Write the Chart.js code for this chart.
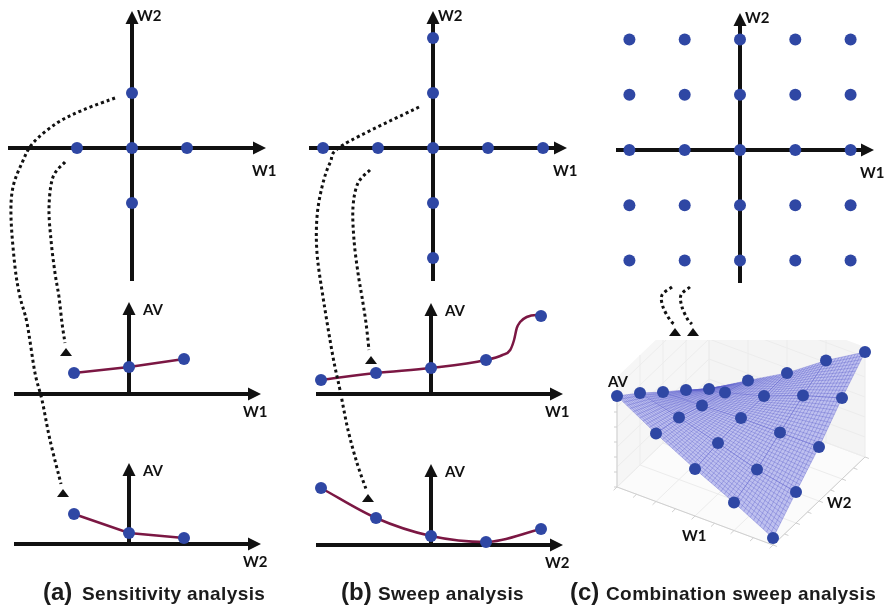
<!DOCTYPE html>
<html>
<head>
<meta charset="utf-8">
<script src="https://cdn.jsdelivr.net/npm/chart.js@4.4.1/dist/chart.umd.min.js"></script>
<style>
    html, body { margin: 0; padding: 0; background: #fff; }
    #page { position: relative; width: 886px; height: 609px; overflow: hidden; }
    #page canvas { position: absolute; }
    .cap { position: absolute; font-family: "Liberation Sans", Arial, sans-serif; font-weight: bold;
           color: #1b1b1b; white-space: nowrap; line-height: 1; }
    .cap.big { font-size: 24px; }
    .cap.small { font-size: 19px; letter-spacing: 0.4px; }
</style>
</head>
<body>
<div id="page"></div>
<script>
// (a) sensitivity analysis: one weight moved at a time
const sensW1 = [-1, 0, 1];
const sensW2 = [-1, 0, 1];
const sensAvW1 = [2.1, 2.7, 3.5];
const sensAvW2 = [3.0, 1.1, 0.6];

// (b) sweep analysis
const sweepW1 = [-2, -1, 0, 1, 2];
const sweepW2 = [-2, -1, 0, 1, 2];
const sweepAvW1 = [1.4, 2.1, 2.6, 3.4, 7.8];
const sweepAvW2 = [5.7, 2.7, 0.9, 0.3, 1.6];
// response shape between the last two W1 samples
const sweepCurveW1 = [1, 1.3, 1.44, 1.51, 1.56, 1.62, 1.74, 1.92, 2];
const sweepCurveAv = [3.4, 3.9, 4.4, 5.4, 6.6, 7.2, 7.7, 7.9, 7.8];

// (c) combination sweep: every W1 x W2 pair
const gridW1 = [-2, -1, 0, 1, 2];
const gridW2 = [-2, -1, 0, 1, 2];
const gridAv = [            // rows: W1, columns: W2
    [9.1, 7.2, 5.1, 3.1, 1.0],
    [6.8, 6.2, 5.2, 4.3, 3.3],
    [4.7, 5.1, 5.4, 5.4, 5.5],
    [2.8, 3.9, 5.4, 6.9, 8.2],
    [0.7, 3.1, 5.4, 8.1, 10.5]
];

const dotBlue = '#2F47A4';
const wine = '#7B1743';
const ink = '#111111';
const labelFont = 'bold 15px Lato, "DejaVu Sans", sans-serif';

const page = document.getElementById('page');

function arrow(ctx, x1, y1, x2, y2) {
    const head = 13, half = 6.5;
    const ang = Math.atan2(y2 - y1, x2 - x1);
    const bx = x2 - head * Math.cos(ang), by = y2 - head * Math.sin(ang);
    ctx.beginPath();
    ctx.moveTo(x1, y1);
    ctx.lineTo(bx, by);
    ctx.stroke();
    ctx.beginPath();
    ctx.moveTo(x2, y2);
    ctx.lineTo(bx + half * Math.sin(ang), by - half * Math.cos(ang));
    ctx.lineTo(bx - half * Math.sin(ang), by + half * Math.cos(ang));
    ctx.closePath();
    ctx.fill();
}

// axes drawn through the data origin, with arrow heads and labels
function crossAxes(axes) {
    return {
        id: 'crossAxes',
        beforeDatasetsDraw(chart) {
            const ctx = chart.ctx;
            const x0 = chart.scales.x.getPixelForValue(0);
            const y0 = chart.scales.y.getPixelForValue(0);
            ctx.save();
            ctx.strokeStyle = ink;
            ctx.fillStyle = ink;
            ctx.lineWidth = 4;
            arrow(ctx, x0 + axes.h[0], y0, x0 + axes.h[1], y0);
            arrow(ctx, x0, y0 + axes.v[0], x0, y0 + axes.v[1]);
            ctx.font = labelFont;
            ctx.textBaseline = 'alphabetic';
            axes.labels.forEach(l => ctx.fillText(l.text, x0 + l.dx, y0 + l.dy));
            ctx.restore();
        }
    };
}

function dots(points) {
    return {
        data: points, showLine: false, clip: false,
        pointRadius: 6, pointHoverRadius: 6, pointBorderWidth: 0,
        pointBackgroundColor: dotBlue
    };
}

function curve(points, smooth) {
    return {
        data: points, showLine: true, clip: false, pointRadius: 0,
        borderColor: wine, borderWidth: 2.5,
        cubicInterpolationMode: smooth ? 'monotone' : 'default', tension: 0
    };
}

const baseOptions = {
    responsive: false,
    animation: false,
    devicePixelRatio: 1,
    layout: { padding: 0, autoPadding: false },
    events: [],
    plugins: { legend: { display: false }, tooltip: { enabled: false } }
};

function addCanvas(box) {
    const cv = document.createElement('canvas');
    cv.width = box[2];
    cv.height = box[3];
    cv.style.left = box[0] + 'px';
    cv.style.top = box[1] + 'px';
    page.appendChild(cv);
    return cv;
}

function addPlot(cfg) {
    const [left, top, w, h] = cfg.box;
    const [ox, oy] = cfg.origin;
    const [ux, uy] = cfg.unit;
    return new Chart(addCanvas(cfg.box), {
        type: 'scatter',
        data: { datasets: cfg.datasets },
        options: {
            ...baseOptions,
            scales: {
                x: { type: 'linear', display: false, min: (left - ox) / ux, max: (left + w - ox) / ux },
                y: { type: 'linear', display: false, min: (oy - top - h) / uy, max: (oy - top) / uy }
            }
        },
        plugins: [crossAxes(cfg.axes)]
    });
}

const crossAxesStyle = {
    h: [-124, 134], v: [133, -137],
    labels: [{ text: 'W1', dx: 120, dy: 28 }, { text: 'W2', dx: 5, dy: -127 }]
};
function avAxes(top, wName) {
    return {
        h: [-115, 132], v: [0, top],
        labels: [{ text: 'AV', dx: 14, dy: top + 13 }, { text: wName, dx: 114, dy: 23 }]
    };
}

function onAxes(w1s, w2s) {
    return w1s.map(w => ({ x: w, y: 0 })).concat(w2s.filter(w => w !== 0).map(w => ({ x: 0, y: w })));
}
const zip = (xs, ys) => xs.map((x, i) => ({ x: x, y: ys[i] }));

// ---- (a) ----
addPlot({
    box: [0, 0, 290, 290], origin: [132, 148], unit: [55, 55],
    datasets: [dots(onAxes(sensW1, sensW2))], axes: crossAxesStyle
});
addPlot({
    box: [0, 290, 300, 140], origin: [129, 394], unit: [55, 10],
    datasets: [dots(zip(sensW1, sensAvW1)), curve(zip(sensW1, sensAvW1), false)],
    axes: avAxes(-92, 'W1')
});
addPlot({
    box: [0, 440, 300, 135], origin: [129, 544], unit: [55, 10],
    datasets: [dots(zip(sensW2, sensAvW2)), curve(zip(sensW2, sensAvW2), false)],
    axes: avAxes(-81, 'W2')
});

// ---- (b) ----
addPlot({
    box: [295, 0, 295, 290], origin: [433, 148], unit: [55, 55],
    datasets: [dots(onAxes(sweepW1, sweepW2))], axes: crossAxesStyle
});
addPlot({
    box: [295, 290, 300, 140], origin: [431, 394], unit: [55, 10],
    datasets: [
        dots(zip(sweepW1, sweepAvW1)),
        curve(zip(sweepW1.slice(0, 3), sweepAvW1.slice(0, 3)).concat(zip(sweepCurveW1, sweepCurveAv)), true)
    ],
    axes: avAxes(-91, 'W1')
});
addPlot({
    box: [295, 440, 300, 135], origin: [431, 545], unit: [55, 10],
    datasets: [dots(zip(sweepW2, sweepAvW2)), curve(zip(sweepW2, sweepAvW2), true)],
    axes: avAxes(-81, 'W2')
});

// ---- (c) grid ----
addPlot({
    box: [600, 0, 286, 290], origin: [740, 150], unit: [55.3, 55.3],
    datasets: [dots(gridW1.flatMap(a => gridW2.map(b => ({ x: a, y: b }))))], axes: crossAxesStyle
});

// ---- (c) surface, oblique view ----
const view = { ox: 617, oy: 487, w1: [39, 14.5], w2: [23, -22], av: 10 };
function proj(w1, w2, av) {
    const a = w1 - gridW1[0], b = w2 - gridW2[0];
    return {
        x: view.ox + view.w1[0] * a + view.w2[0] * b,
        y: view.oy + view.w1[1] * a + view.w2[1] * b - view.av * av
    };
}

const surfacePlugin = {
    id: 'surface',
    beforeDatasetsDraw(chart) {
        const ctx = chart.ctx;
        const sx = chart.scales.x, sy = chart.scales.y;
        const P = (w1, w2, av) => { const p = proj(w1, w2, av); return [sx.getPixelForValue(p.x), sy.getPixelForValue(p.y)]; };
        const lo1 = gridW1[0], hi1 = gridW1[gridW1.length - 1];
        const lo2 = gridW2[0], hi2 = gridW2[gridW2.length - 1];
        const H = 11;
        const poly = (pts, fill) => {
            ctx.beginPath();
            pts.forEach((p, k) => k ? ctx.lineTo(p[0], p[1]) : ctx.moveTo(p[0], p[1]));
            ctx.closePath();
            ctx.fillStyle = fill;
            ctx.fill();
        };
        const seg = (a, b) => { ctx.beginPath(); ctx.moveTo(a[0], a[1]); ctx.lineTo(b[0], b[1]); ctx.stroke(); };
        ctx.save();
        ctx.lineWidth = 1;
        // back walls and floor
        poly([P(lo1, lo2, 0), P(lo1, hi2, 0), P(lo1, hi2, H), P(lo1, lo2, H)], '#f6f6f6');
        poly([P(lo1, hi2, 0), P(hi1, hi2, 0), P(hi1, hi2, H), P(lo1, hi2, H)], '#f4f4f4');
        poly([P(lo1, lo2, 0), P(hi1, lo2, 0), P(hi1, hi2, 0), P(lo1, hi2, 0)], '#fbfbfb');
        ctx.strokeStyle = '#ececec';
        for (let v = 0; v <= H; v += 2) {
            seg(P(lo1, lo2, v), P(lo1, hi2, v));
            seg(P(lo1, hi2, v), P(hi1, hi2, v));
        }
        for (let t = lo2; t <= hi2; t += 1) seg(P(lo1, t, 0), P(lo1, t, H));
        for (let t = lo1; t <= hi1; t += 1) seg(P(t, hi2, 0), P(t, hi2, H));
        for (let t = lo1; t <= hi1; t += 1) seg(P(t, lo2, 0), P(t, hi2, 0));
        for (let t = lo2; t <= hi2; t += 1) seg(P(lo1, t, 0), P(hi1, t, 0));
        // front edges with ticks
        ctx.strokeStyle = '#cfcfcf';
        seg(P(lo1, lo2, 0), P(hi1, lo2, 0));
        seg(P(hi1, lo2, 0), P(hi1, hi2, 0));
        seg(P(lo1, lo2, 0), P(lo1, lo2, 9));
        for (let t = lo1; t <= hi1; t += 0.5) seg(P(t, lo2, 0), P(t, lo2 - 0.15, 0));
        for (let t = lo2; t <= hi2; t += 0.5) seg(P(hi1, t, 0), P(hi1 + 0.1, t, 0));
        for (let v = 0; v <= 9; v += 1.5) { const p = P(lo1, lo2, v); seg(p, [p[0] - 3, p[1]]); }

        // surface: outline fill then a fine mesh
        const G = (i, j) => P(gridW1[i], gridW2[j], gridAv[i][j]);
        const n = gridW1.length - 1, m = gridW2.length - 1;
        const edge = [];
        for (let i = 0; i <= n; i++) edge.push(G(i, 0));
        for (let j = 1; j <= m; j++) edge.push(G(n, j));
        for (let i = n - 1; i >= 0; i--) edge.push(G(i, m));
        for (let j = m - 1; j > 0; j--) edge.push(G(0, j));
        poly(edge, 'rgba(186,189,238,0.95)');
        const lerp = (a, b, t) => [a[0] + (b[0] - a[0]) * t, a[1] + (b[1] - a[1]) * t];
        const bil = (i, j, s, t) => lerp(lerp(G(i, j), G(i + 1, j), s), lerp(G(i, j + 1), G(i + 1, j + 1), s), t);
        const sub = 12;
        ctx.strokeStyle = 'rgba(85,90,200,0.5)';
        ctx.lineWidth = 0.7;
        for (let i = 0; i < n; i++) {
            for (let j = 0; j < m; j++) {
                for (let k = 0; k <= sub; k++) {
                    const f = k / sub;
                    seg(bil(i, j, f, 0), bil(i, j, f, 1));
                    seg(bil(i, j, 0, f), bil(i, j, 1, f));
                }
            }
        }
        ctx.restore();
    },
    afterDatasetsDraw(chart) {
        const ctx = chart.ctx;
        const sx = chart.scales.x, sy = chart.scales.y;
        ctx.save();
        ctx.font = labelFont;
        ctx.fillStyle = ink;
        [['AV', 608, 387], ['W1', 682, 541], ['W2', 827, 508]].forEach(l =>
            ctx.fillText(l[0], sx.getPixelForValue(l[1]), sy.getPixelForValue(l[2])));
        ctx.restore();
    }
};

(function addSurface() {
    const box = [600, 340, 286, 220];
    const pts = [];
    gridW1.forEach((a, i) => gridW2.forEach((b, j) => pts.push(proj(a, b, gridAv[i][j]))));
    new Chart(addCanvas(box), {
        type: 'scatter',
        data: { datasets: [dots(pts)] },
        options: {
            ...baseOptions,
            scales: {
                x: { type: 'linear', display: false, min: box[0], max: box[0] + box[2] },
                y: { type: 'linear', display: false, reverse: true, min: box[1], max: box[1] + box[3] }
            }
        },
        plugins: [surfacePlugin]
    });
})();

// ---- dotted links from the weight plane to the response plots ----
const links = [
    { path: [[115, 98], [83, 110], [57, 123], [33, 143], [22, 163], [13, 187], [11, 217], [15, 267], [20, 297], [27, 323], [35, 373], [42, 400], [50, 440], [61, 484]], tip: [63, 489] },
    { path: [[65, 162], [53, 177], [49, 207], [51, 240], [55, 273], [59, 297], [62, 323], [65, 343]], tip: [66, 348] },
    { path: [[419, 107], [343, 145], [330, 163], [322, 187], [317, 217], [317, 253], [323, 297], [333, 357], [340, 390], [348, 430], [357, 463], [366, 489]], tip: [368, 494] },
    { path: [[370, 170], [358, 183], [353, 207], [354, 240], [358, 273], [362, 297], [366, 323], [369, 350]], tip: [371, 356] },
    { path: [[672, 287], [662, 295], [663, 307], [670, 320], [674, 324]], tip: [675, 328] },
    { path: [[690, 287], [681, 295], [682, 307], [688, 320], [692, 324]], tip: [693, 328] }
];

(function drawLinks() {
    const cv = addCanvas([0, 0, 886, 609]);
    cv.style.pointerEvents = 'none';
    const ctx = cv.getContext('2d');
    ctx.strokeStyle = ink;
    ctx.fillStyle = ink;
    ctx.lineWidth = 3;
    ctx.setLineDash([3, 3]);
    links.forEach(link => {
        const pts = link.path;
        ctx.beginPath();
        ctx.moveTo(pts[0][0], pts[0][1]);
        for (let i = 0; i < pts.length - 1; i++) {
            const p0 = pts[i - 1] || pts[i], p1 = pts[i], p2 = pts[i + 1], p3 = pts[i + 2] || p2;
            ctx.bezierCurveTo(
                p1[0] + (p2[0] - p0[0]) / 6, p1[1] + (p2[1] - p0[1]) / 6,
                p2[0] - (p3[0] - p1[0]) / 6, p2[1] - (p3[1] - p1[1]) / 6,
                p2[0], p2[1]);
        }
        ctx.stroke();
        const t = link.tip;
        ctx.beginPath();
        ctx.moveTo(t[0], t[1]);
        ctx.lineTo(t[0] + 6, t[1] + 8);
        ctx.lineTo(t[0] - 6, t[1] + 8);
        ctx.closePath();
        ctx.fill();
    });
})();

// ---- captions ----
const captions = [
    { text: '(a)', x: 43, cls: 'big' }, { text: 'Sensitivity analysis', x: 82, cls: 'small' },
    { text: '(b)', x: 341, cls: 'big' }, { text: 'Sweep analysis', x: 378, cls: 'small' },
    { text: '(c)', x: 570, cls: 'big' }, { text: 'Combination sweep analysis', x: 606, cls: 'small' }
];
captions.forEach(c => {
    const d = document.createElement('div');
    d.className = 'cap ' + c.cls;
    d.textContent = c.text;
    d.style.left = c.x + 'px';
    d.style.top = (c.cls === 'big' ? 580 : 584) + 'px';
    page.appendChild(d);
});
</script>
</body>
</html>
